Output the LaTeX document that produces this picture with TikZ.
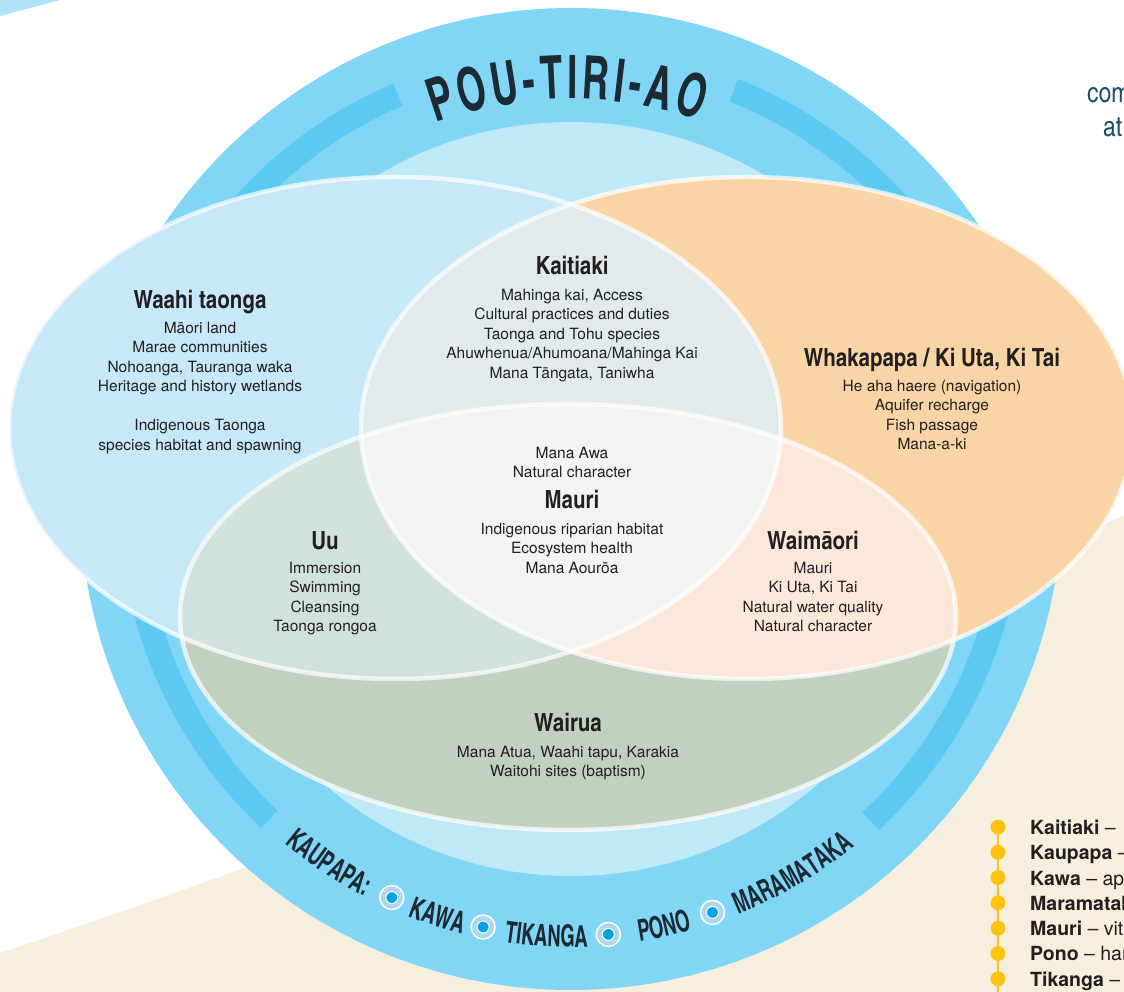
\documentclass[tikz,border=0pt]{standalone}
\usepackage{fontspec}
\setmainfont{TeX Gyre Heros}
\newfontfamily\condfont{texgyreheroscn}[Extension=.otf,UprightFont=*-regular,BoldFont=*-bold]
\newfontfamily\arcfont{texgyreheroscn-bold}[Extension=.otf,FakeStretch=0.75]
\usetikzlibrary{positioning,decorations.text}

\definecolor{ringblue}{HTML}{81D5F5}
\definecolor{banddark}{HTML}{5BC9F2}
\definecolor{innerblue}{HTML}{C0E9F8}
\definecolor{wedgeblue}{HTML}{AEE2F7}
\definecolor{sand}{HTML}{F7EFDD}
\definecolor{leftfill}{HTML}{C6E8F7}
\definecolor{rightfill}{HTML}{F9D5A6}
\definecolor{bottomfill}{HTML}{C1D1BF}
\definecolor{lrfill}{HTML}{E1EBEE}
\definecolor{lbfill}{HTML}{D1E1DE}
\definecolor{rbfill}{HTML}{FBE8DA}
\definecolor{allfill}{HTML}{F2F4F1}
\definecolor{ink}{HTML}{231F20}
\definecolor{arcink}{HTML}{1B2A33}
\definecolor{sideink}{HTML}{1F4E6B}
\definecolor{dotblue}{HTML}{00A3E4}
\definecolor{dotring}{HTML}{AFD7EB}
\definecolor{legendgold}{HTML}{FFC20E}

\tikzset{
  headtxt/.style={font=\condfont\bfseries\fontsize{25}{25}\selectfont, text=ink, inner sep=0pt, anchor=base},
  bodytxt/.style={font=\fontsize{15.5}{19.5}\selectfont, text=ink, align=center, inner sep=0pt, anchor=north},
  rim/.style={draw=white, draw opacity=0.7, line width=4.5pt},
  band/.style={banddark, line width=24pt},
  ringdot/.style={circle, fill=dotring, draw=white, line width=1.5pt, minimum size=24pt, inner sep=0pt,
    path picture={\filldraw[fill=dotblue, draw=white, line width=1pt] (path picture bounding box.center) circle[radius=6pt];}},
  toparc/.style={decorate, decoration={text along path, text align=fit to path, text color=arcink,
    text={|\arcfont\fontsize{60}{60}\selectfont|#1}}},
  lowarc/.style={decorate, decoration={text along path, text align=center, text color=arcink,
    text={|\arcfont\fontsize{30}{30}\selectfont|#1}}},
  legenddot/.style={circle, fill=legendgold, minimum size=15pt, inner sep=0pt},
  legendline/.style={legendgold, line width=2.5pt},
  legendtxt/.style={font=\fontsize{19.5}{19.5}\selectfont, text=ink, inner sep=0pt, anchor=base west},
  sidetxt/.style={font=\condfont\fontsize{28}{28}\selectfont, text=sideink, inner sep=0pt, anchor=base west}
}

\begin{document}
\begin{tikzpicture}[x=1pt,y=1pt]
  \useasboundingbox (0,0) rectangle (1124,992);

  % background
  \fill[sand] (0,39) .. controls (400,172) and (950,392) .. (1124,477) -- (1124,0) -- (0,0) -- cycle;
  \fill[wedgeblue] (0,992) -- (60,992) -- (0,976) -- cycle;

  % pou-tiri-ao ring
  \begin{scope}[shift={(571,493)}]
    \fill[ringblue] (0,0) circle[radius=491];
    \draw[band] (113.2:440) arc[start angle=113.2, end angle=226.7, radius=440];
    \draw[band] (68.3:440) arc[start angle=68.3, end angle=-47.1, radius=440];
    \fill[innerblue] (0,0) circle[radius=377];
  \end{scope}

  % the three ellipses
  \fill[leftfill] (395,564) ellipse[x radius=386, y radius=251];
  \fill[rightfill] (747,564) ellipse[x radius=386, y radius=251];
  \fill[bottomfill] (568,375) ellipse[x radius=388, y radius=213];
  \begin{scope}
    \clip (395,564) ellipse[x radius=386, y radius=251];
    \fill[lrfill] (747,564) ellipse[x radius=386, y radius=251];
    \fill[lbfill] (568,375) ellipse[x radius=388, y radius=213];
  \end{scope}
  \begin{scope}
    \clip (747,564) ellipse[x radius=386, y radius=251];
    \fill[rbfill] (568,375) ellipse[x radius=388, y radius=213];
  \end{scope}
  \begin{scope}
    \clip (395,564) ellipse[x radius=386, y radius=251];
    \clip (747,564) ellipse[x radius=386, y radius=251];
    \fill[allfill] (568,375) ellipse[x radius=388, y radius=213];
  \end{scope}
  \draw[rim] (395,564) ellipse[x radius=386, y radius=251];
  \draw[rim] (747,564) ellipse[x radius=386, y radius=251];
  \draw[rim] (568,375) ellipse[x radius=388, y radius=213];

  % ring texts
  \begin{scope}[shift={(571,493)}]
    \path[toparc=POU-TIRI-AO] (109.8:400) arc[start angle=109.8, end angle=71.2, radius=400];
    \path[lowarc=KAUPAPA:] (224.4:448) arc[start angle=224.4, end angle=248.4, radius=448];
    \path[lowarc=KAWA] (240.3:448) arc[start angle=240.3, end angle=264.3, radius=448];
    \path[lowarc=TIKANGA] (254.8:448) arc[start angle=254.8, end angle=278.8, radius=448];
    \path[lowarc=PONO] (270.3:448) arc[start angle=270.3, end angle=294.3, radius=448];
    \path[lowarc=MARAMATAKA] (288.6:448) arc[start angle=288.6, end angle=312.6, radius=448];
    \node (kd1) [ringdot] at (245.8:437) {};
    \node (kd2) [ringdot] at (258.4:437) {};
    \node (kd3) [ringdot] at (274.9:437) {};
    \node (kd4) [ringdot] at (288.9:437) {};
  \end{scope}

  % Waahi taonga
  \node (waahi) [headtxt] at (200,683) {Waahi taonga};
  \node (waahiTxt) [bodytxt] at (200,670) {M\={a}ori land\\Marae communities\\Nohoanga, Tauranga waka\\Heritage and history wetlands\\[19.5pt]Indigenous Taonga\\species habitat and spawning};

  % Kaitiaki
  \node (kaitiaki) [headtxt] at (572,717) {Kaitiaki};
  \node (kaitiakiTxt) [bodytxt] at (572,703) {Mahinga kai, Access\\Cultural practices and duties\\Taonga and Tohu species\\Ahuwhenua/Ahumoana/Mahinga Kai\\Mana T\={a}ngata, Taniwha};

  % Whakapapa
  \node (whakapapa) [headtxt] at (932,625) {Whakapapa / Ki Uta, Ki Tai};
  \node (whakapapaTxt) [bodytxt] at (932,612) {He aha haere (navigation)\\Aquifer recharge\\Fish passage\\Mana-a-ki};

  % Mauri
  \node (mauriTop) [bodytxt] at (572,545) {Mana Awa\\Natural character};
  \node (mauri) [headtxt] at (572,483) {Mauri};
  \node (mauriTxt) [bodytxt] at (572,469) {Indigenous riparian habitat\\Ecosystem health\\Mana Aour\={o}a};

  % Uu
  \node (uu) [headtxt] at (325,442) {Uu};
  \node (uuTxt) [bodytxt] at (325,430) {Immersion\\Swimming\\Cleansing\\Taonga rongoa};

  % Waimaori
  \node (waimaori) [headtxt] at (813,442) {Waim\={a}ori};
  \node (waimaoriTxt) [bodytxt] at (813,430) {Mauri\\Ki Uta, Ki Tai\\Natural water quality\\Natural character};

  % Wairua
  \node (wairua) [headtxt] at (568,260) {Wairua};
  \node (wairuaTxt) [bodytxt] at (568,246) {Mana Atua, Waahi tapu, Karakia\\Waitohi sites (baptism)};

  % side text
  \node (sideA) [sidetxt] at (1087,889) {com};
  \node (sideB) [sidetxt] at (1103,855) {at};

  % legend
  \coordinate (lgtop) at (998,165);
  \coordinate (lgend) at (998,0);
  \draw[legendline] (lgtop) -- (lgend);
  \foreach \w/\r [count=\i] in {Kaitiaki/{},Kaupapa/{},Kawa/ap,Maramataka/{},Mauri/vit,Pono/har,Tikanga/{}}{
    \node (lg\i) [legenddot] at (998,{190.3-25.3*\i}) {};
    \node (lt\i) [legendtxt] at (1030,{182.8-25.3*\i}) {\textbf{\w} – \r};
  }

\end{tikzpicture}
\end{document}
